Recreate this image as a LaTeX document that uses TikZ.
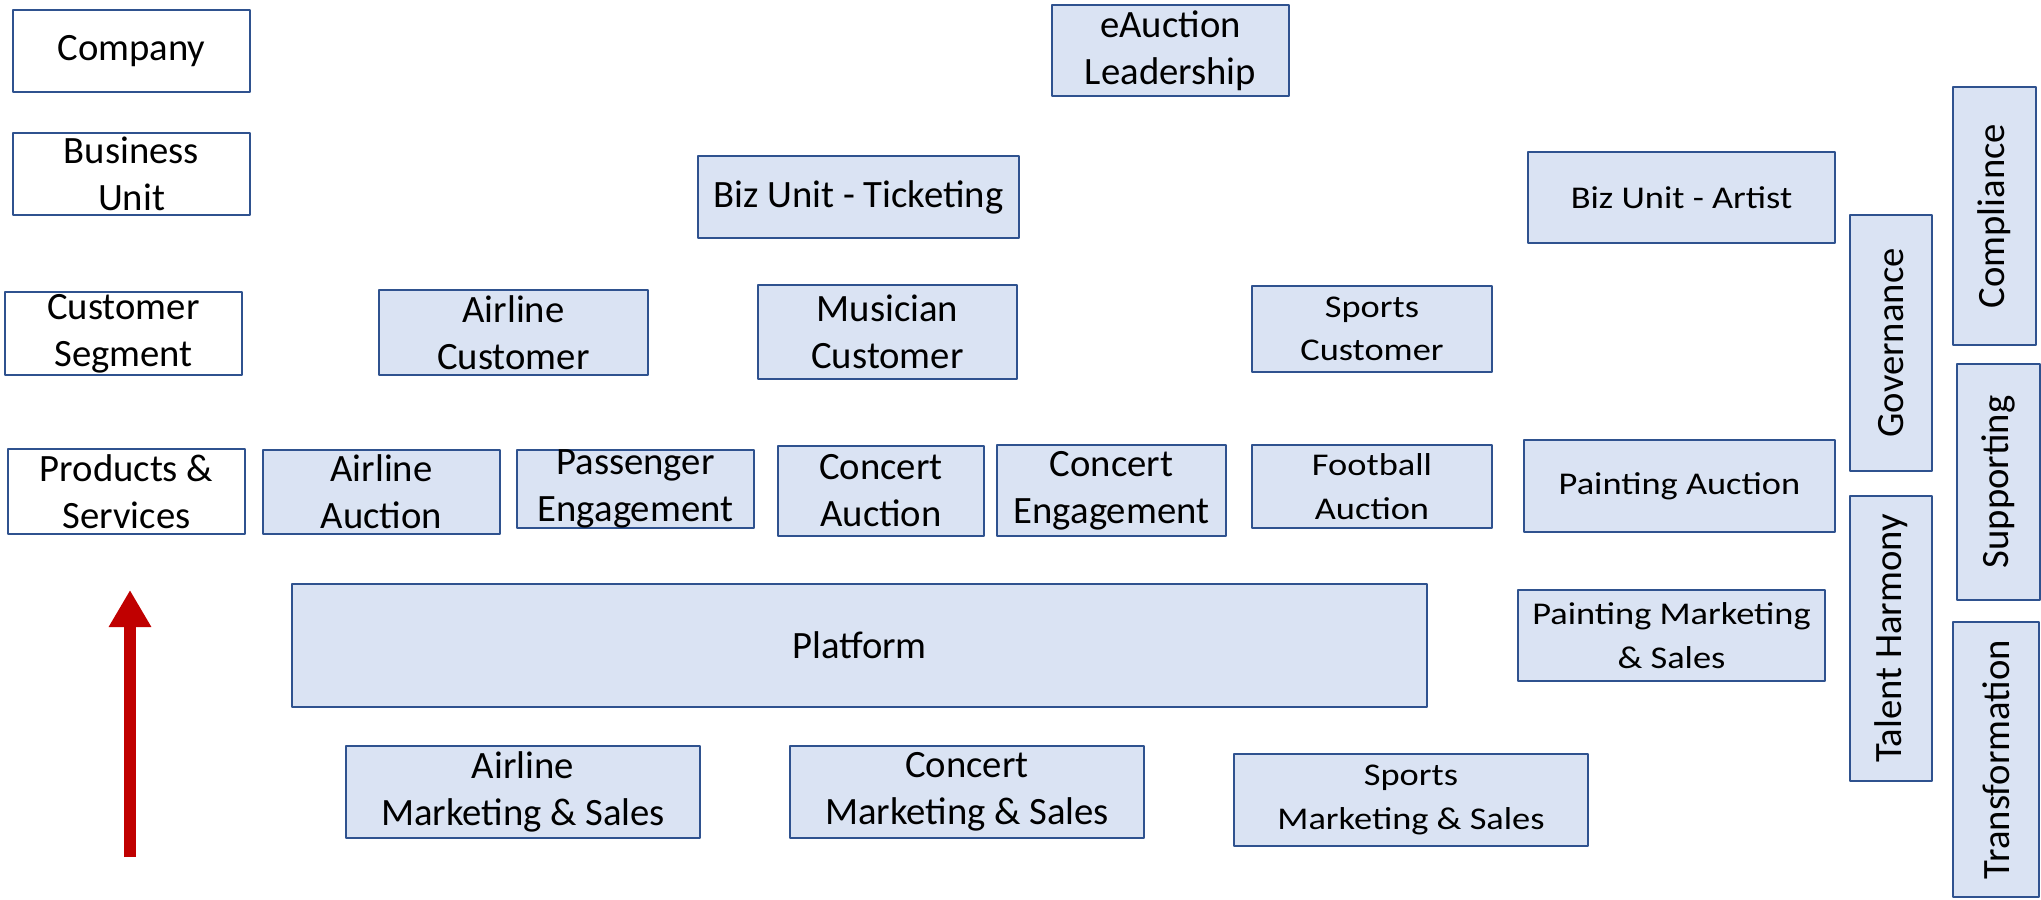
\documentclass[tikz,border=0pt]{standalone}
\usepackage{fontspec}
\setmainfont{Carlito}
\newfontfamily\widefont[FakeStretch=1.15]{Carlito}
\usetikzlibrary{arrows.meta}
\definecolor{boxfill}{HTML}{DAE3F3}
\definecolor{boxline}{HTML}{2F528F}
\definecolor{arrowred}{HTML}{C00000}
\begin{document}
\begin{tikzpicture}[x=0.01cm, y=-0.01cm, line join=round,
  every node/.style={font=\fontsize{11}{13.4}\selectfont, align=center, inner sep=0pt},
  level/.style={draw=boxline, line width=0.6pt, fill=white},
  unit/.style={draw=boxline, line width=0.6pt, fill=boxfill},
  wide/.style={font=\widefont\fontsize{9}{12.4}\selectfont},
  side/.style={unit, rotate=90}]
\useasboundingbox (0,0) rectangle (2041,900);
% levels on the left
\node [level, minimum width=2.37cm, minimum height=0.82cm] (company) at (131.5,51) {Company};
\node [level, minimum width=2.37cm, minimum height=0.82cm] (bizunit) at (131.5,174) {Business\\Unit};
\node [level, minimum width=2.37cm, minimum height=0.83cm] (custseg) at (123.5,333.5) {Customer\\Segment};
\node [level, minimum width=2.37cm, minimum height=0.85cm] (prodserv) at (126.5,491.5) {Products \&\\Services};
\coordinate (tail) at (130,857);
\coordinate (tip) at (130,590);
\draw [arrowred, line width=0.125cm, -{Triangle[width=0.4cm, length=0.37cm]}] (tail) -- (tip);
% leadership and business units
\node [unit, minimum width=2.37cm, minimum height=0.91cm] (leader) at (1170.5,50.5) {eAuction\\Leadership};
\node [unit, minimum width=3.21cm, minimum height=0.82cm] (ticketing) at (858.5,197) {Biz Unit - Ticketing};
\node [unit, wide, minimum width=3.07cm, minimum height=0.91cm] (artist) at (1681.5,197.5) {Biz Unit - Artist};
% customer segments
\node [unit, minimum width=2.69cm, minimum height=0.85cm] (airlinecust) at (513.5,332.5) {Airline\\Customer};
\node [unit, minimum width=2.59cm, minimum height=0.94cm] (musiccust) at (887.5,332) {Musician\\Customer};
\node [unit, wide, minimum width=2.40cm, minimum height=0.86cm] (sportscust) at (1372,329) {Sports\\Customer};
% products and services
\node [unit, minimum width=2.37cm, minimum height=0.84cm] (airlineauc) at (381.5,492) {Airline\\Auction};
\node [unit, minimum width=2.37cm, minimum height=0.78cm] (passenger) at (635.5,489) {Passenger\\Engagement};
\node [unit, minimum width=2.06cm, minimum height=0.90cm] (concertauc) at (881,491) {Concert\\Auction};
\node [unit, minimum width=2.29cm, minimum height=0.91cm] (concerteng) at (1111.5,490.5) {Concert\\Engagement};
\node [unit, wide, minimum width=2.40cm, minimum height=0.83cm] (footballauc) at (1372,486.5) {Football\\Auction};
\node [unit, wide, minimum width=3.11cm, minimum height=0.92cm] (paintauc) at (1679.5,486) {Painting Auction};
% platform and sales
\node [unit, minimum width=11.35cm, minimum height=1.23cm] (platform) at (859.5,645.5) {Platform};
\node [unit, wide, minimum width=3.07cm, minimum height=0.91cm] (paintms) at (1671.5,635.5) {Painting Marketing\\\& Sales};
\node [unit, minimum width=3.54cm, minimum height=0.92cm] (airlinems) at (523,792) {Airline\\Marketing \& Sales};
\node [unit, minimum width=3.54cm, minimum height=0.92cm] (concertms) at (967,792) {Concert\\Marketing \& Sales};
\node [unit, wide, minimum width=3.54cm, minimum height=0.92cm] (sportsms) at (1411,800) {Sports\\Marketing \& Sales};
% side functions
\node [side, minimum width=2.56cm, minimum height=0.82cm] (governance) at (1891,343) {Governance};
\node [side, minimum width=2.85cm, minimum height=0.82cm] (talent) at (1891,638.5) {Talent Harmony};
\node [side, minimum width=2.58cm, minimum height=0.83cm] (compliance) at (1994.5,216) {Compliance};
\node [side, minimum width=2.36cm, minimum height=0.83cm] (supporting) at (1998.5,482) {Supporting};
\node [side, minimum width=2.75cm, minimum height=0.86cm] (transform) at (1996,759.5) {Transformation};
\end{tikzpicture}
\end{document}
